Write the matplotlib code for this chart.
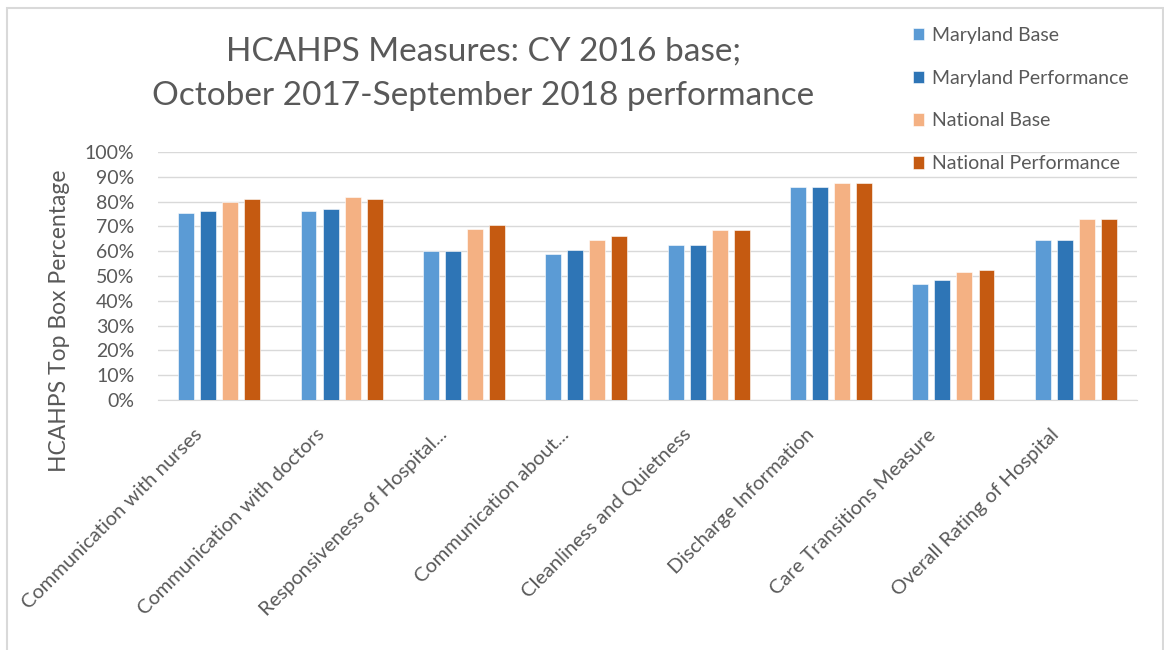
import numpy as np
import matplotlib
matplotlib.use('Agg')
import matplotlib.pyplot as plt
import matplotlib.transforms as mtransforms
from matplotlib.patches import Rectangle
from matplotlib.ticker import PercentFormatter

# data
categories = ['Communication with nurses', 'Communication with doctors',
              'Responsiveness of Hospital...', 'Communication about...',
              'Cleanliness and Quietness', 'Discharge Information',
              'Care Transitions Measure', 'Overall Rating of Hospital']
md_base = [75.3, 76.2, 60.0, 59.0, 62.3, 85.7, 46.9, 64.7]
md_perf = [76.2, 77.0, 60.0, 60.6, 62.3, 85.7, 48.5, 64.7]
nat_base = [80.0, 81.7, 68.8, 64.7, 68.7, 87.3, 51.8, 72.8]
nat_perf = [81.0, 81.0, 70.4, 66.3, 68.7, 87.3, 52.6, 72.8]
series_names = ['Maryland Base', 'Maryland Performance', 'National Base', 'National Performance']
colors = ['#5B9BD5', '#2E75B6', '#F4B183', '#C55A11']

plt.rcParams['font.family'] = ['Lato', 'DejaVu Sans']
grey = '#595959'

fig = plt.figure(figsize=(11.64, 6.5), dpi=100)
# outer frame of the chart object
fig.patches.append(Rectangle((7 / 1164, -0.1), 1156 / 1164, 1 - 8 / 650 + 0.1,
                             transform=fig.transFigure, fill=False,
                             edgecolor='#D9D9D9', linewidth=1.5))

ax = fig.add_axes([158 / 1164, 1 - 400 / 650, 979 / 1164, 248 / 650])
x = np.arange(len(categories))
step = 0.18
width = 0.13
all_series = [md_base, md_perf, nat_base, nat_perf]
for i, (vals, name, c) in enumerate(zip(all_series, series_names, colors)):
    ax.bar(x + (i - 1.5) * step, vals, width, color=c, label=name,
           edgecolor='white', linewidth=0.4, zorder=3)

ax.set_xlim(-0.5, len(categories) - 0.5)
ax.set_ylim(0, 100)
ax.set_yticks(np.arange(0, 101, 10))
ax.yaxis.set_major_formatter(PercentFormatter(decimals=0))
ax.grid(axis='y', color='#D9D9D9', linewidth=1, zorder=0)
for s in ['top', 'right', 'left']:
    ax.spines[s].set_visible(False)
ax.spines['bottom'].set_color('#D9D9D9')
ax.tick_params(axis='both', length=0, colors=grey)
ax.tick_params(axis='y', pad=17, labelsize=14)
ax.set_xticks(x)
ax.set_xticklabels(categories, rotation=45, ha='right', va='center',
                   rotation_mode='anchor', fontsize=14.5, color=grey)
ax.tick_params(axis='x', pad=23)
shift = mtransforms.ScaledTranslation(-20 / 100, 0, fig.dpi_scale_trans)
for lab in ax.get_xticklabels():
    lab.set_transform(lab.get_transform() + shift)

fig.text(60 / 1164, 1 - 321 / 650, 'HCAHPS Top Box Percentage', rotation=90,
         ha='center', va='center', fontsize=16.5, color=grey)
fig.text(483 / 1164, 1 - 74 / 650,
         'HCAHPS Measures: CY 2016 base;\nOctober 2017-September 2018 performance',
         ha='center', va='center', fontsize=24, color=grey, linespacing=1.62)

leg = fig.legend(loc='upper left', bbox_to_anchor=(903 / 1164, 1 - 17 / 650),
                 frameon=False, fontsize=14, handlelength=0.6, handleheight=0.6,
                 handletextpad=0.4, labelspacing=1.33, borderpad=0,
                 labelcolor=grey)

fig.savefig('out.png', dpi=100)
